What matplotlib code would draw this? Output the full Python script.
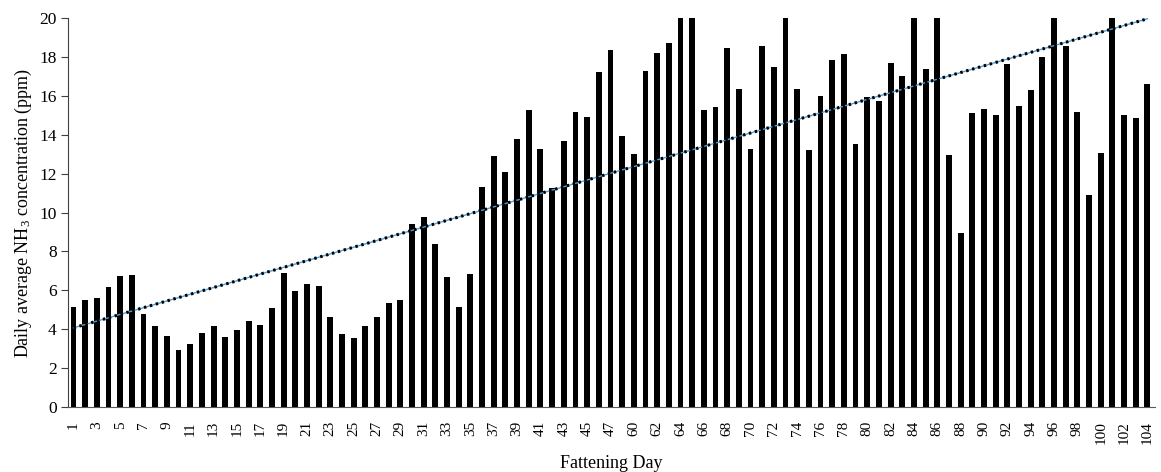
import matplotlib
matplotlib.use("Agg")
import matplotlib.pyplot as plt
import numpy as np

plt.rcParams['font.family'] = ['Liberation Serif', 'DejaVu Serif']

# fattening days shown on the x axis (days 48-58 are missing)
days = list(range(1, 48)) + list(range(59, 105))

# daily average NH3 (ppm); bars above 20 are cut off by the axis
nh3 = [5.17, 5.53, 5.60, 6.20, 6.74, 6.78, 4.81, 4.16, 3.68, 2.96,
       3.27, 3.83, 4.16, 3.59, 3.97, 4.43, 4.23, 5.12, 6.91, 5.96,
       6.33, 6.23, 4.64, 3.78, 3.58, 4.16, 4.62, 5.34, 5.49, 9.40,
       9.79, 8.40, 6.67, 5.17, 6.83, 11.30, 12.92, 12.07, 13.76, 15.25,
       13.25, 11.24, 13.69, 15.18, 14.91, 17.22, 18.33,
       13.91, 13.01, 17.25, 18.18, 18.72, 21.0, 21.0, 15.28, 15.42, 18.47,
       16.33, 13.28, 18.57, 17.46, 21.0, 16.36, 13.21, 16.00, 17.85, 18.12,
       13.52, 15.93, 15.73, 17.68, 17.03, 21.0, 17.37, 21.0, 12.97, 8.95,
       15.11, 15.32, 14.98, 17.64, 15.45, 16.31, 17.99, 21.0, 18.53, 15.18,
       10.92, 13.04, 21.0, 14.99, 14.86, 16.60]

x = np.arange(len(days))

fig = plt.figure(figsize=(11.61, 4.72), dpi=100)
ax = fig.add_axes([0.0583, 0.137, 0.9365, 0.8255])

ax.bar(x, nh3, width=0.5, color='black', zorder=2)

# linear trend line, like the Excel one
k, b = np.polyfit(x + 1, nh3, 1)
trend = k * (x + 1) + b
ax.plot(x, trend, color='#4f9fd6', lw=1.0, zorder=3)
ax.plot(x, trend, color='black', lw=2.2, linestyle=(0, (0.8, 1.2)), zorder=4)

ax.set_ylim(0, 20)
ax.set_xlim(-0.5, len(days) - 0.35)
ax.set_yticks(np.arange(0, 21, 2))
ax.set_xticks(x[::2])
ax.set_xticklabels([str(d) for d in days[::2]], rotation=90, fontsize=11)
ax.tick_params(axis='y', labelsize=12.5, length=5, color='#404040', pad=3)
ax.tick_params(axis='x', length=0, pad=10)

for s in ['top', 'right']:
    ax.spines[s].set_visible(False)
ax.spines['left'].set_color('#404040')
ax.spines['bottom'].set_color('#595959')

ax.set_ylabel(r'Daily average $\mathregular{NH_3}$ concentration (ppm)', fontsize=13, labelpad=4)
ax.set_xlabel('Fattening Day', fontsize=13, labelpad=8)

fig.savefig('out.png', dpi=100)
